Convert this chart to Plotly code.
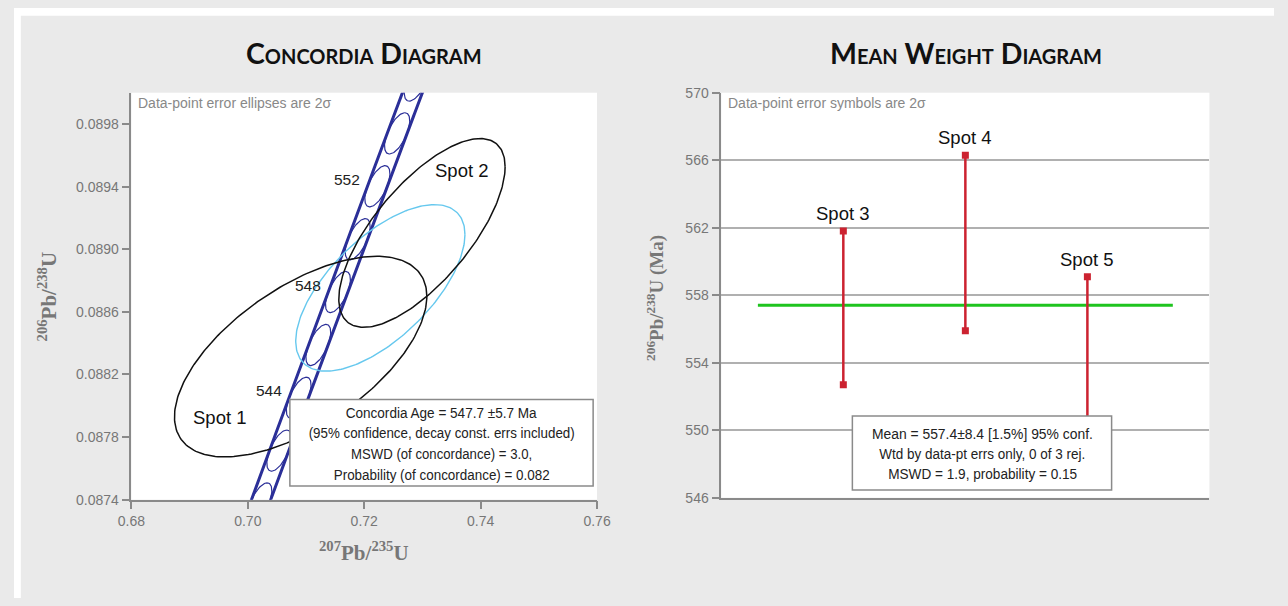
import json
import numpy as np
import plotly.graph_objects as go

W, H = 1288, 606

# ---------------- Concordia diagram inputs ----------------
LAMBDA_238 = 1.55125e-10      # 1/yr
LAMBDA_235 = 9.8485e-10       # 1/yr
BAND_REL_ERR = 0.00182        # relative λ235 spread shown as the concordia band
marker_ages = [540, 542, 544, 546, 548, 550, 552, 554, 556]   # Ma
label_ages = [544, 548, 552]                                  # Ma
marker_half_age = 0.78                                        # Ma

spot_names = ["Spot 1", "Spot 2"]
spot_x = [0.70908, 0.72992]          # 207Pb/235U
spot_y = [0.088314, 0.089104]        # 206Pb/238U
spot_x_err = [0.02168, 0.014286]     # 2σ
spot_y_err = [0.000641, 0.000603]    # 2σ
spot_rho = [0.60, 0.70]

wm_x, wm_y = 0.72277, 0.088753
wm_x_err, wm_y_err, wm_rho = 0.014538, 0.000532, 0.64

# ---------------- Weighted mean inputs ----------------
wm_spots = ["Spot 3", "Spot 4", "Spot 5"]
wm_pos = [1, 2, 3]
age_hi = [561.8, 566.3, 559.1]
age_lo = [552.7, 555.9, 549.4]
mean_age = 557.4
mean_span = [0.3, 3.7]

conc_lines = ["Concordia Age = 547.7 ±5.7 Ma",
              "(95% confidence, decay const. errs included)",
              "MSWD (of concordance) = 3.0,",
              "Probability (of concordance) = 0.082"]
conc_widths = [191, 266, 181, 216]
mean_lines = ["Mean = 557.4±8.4 [1.5%] 95% conf.",
              "Wtd by data-pt errs only, 0 of 3 rej.",
              "MSWD = 1.9, probability = 0.15"]
mean_widths = [221, 206, 189]

GRAY_TXT = "#777777"
AXIS_C = "#8a8a8a"
NAVY = "#2b2f98"
RED = "#cc2230"
SANS = "Liberation Sans, Arial, sans-serif"
SERIF = "Liberation Serif, Times New Roman, serif"
TITLE_FONT = "Lato, Open Sans, sans-serif"


def px_x(v):
    return v / W


def px_y(v):
    return 1 - v / H


def concordia(t_ma, lam235=LAMBDA_235):
    t = np.asarray(t_ma, dtype=float) * 1e6
    return np.exp(lam235 * t) - 1.0, np.exp(LAMBDA_238 * t) - 1.0


def error_ellipse(cx, cy, ex, ey, rho, n=240):
    th = np.linspace(0, 2 * np.pi, n)
    x = cx + ex * np.cos(th)
    y = cy + ey * (rho * np.cos(th) + np.sqrt(1 - rho ** 2) * np.sin(th))
    return x, y


fig = go.Figure()

# concordia band edges
t_line = np.linspace(530, 565, 200)
for sgn in (-1, 1):
    bx, by = concordia(t_line, LAMBDA_235 * (1 + sgn * BAND_REL_ERR))
    fig.add_trace(go.Scatter(x=bx, y=by, mode="lines",
                             line=dict(color=NAVY, width=3),
                             hoverinfo="skip", showlegend=False,
                             xaxis="x", yaxis="y"))

# age marker ellipses inscribed in the band
for age in marker_ages:
    cx, cy = concordia(age)
    x0, y0 = concordia(age - marker_half_age)
    x1, y1 = concordia(age + marker_half_age)
    ux, uy = (x1 - x0) / 2, (y1 - y0) / 2
    hw = (cx + 1) * LAMBDA_235 * age * 1e6 * BAND_REL_ERR
    th = np.linspace(0, 2 * np.pi, 120)
    ex = cx + ux * np.cos(th) + hw * np.sin(th)
    ey = cy + uy * np.cos(th)
    fig.add_trace(go.Scatter(x=ex, y=ey, mode="lines",
                             line=dict(color=NAVY, width=1.2),
                             hoverinfo="skip", showlegend=False,
                             xaxis="x", yaxis="y"))

# weighted-mean ellipse
mx, my = error_ellipse(wm_x, wm_y, wm_x_err, wm_y_err, wm_rho)
fig.add_trace(go.Scatter(x=mx, y=my, mode="lines",
                         line=dict(color="#66c8ee", width=1.4),
                         hoverinfo="skip", showlegend=False,
                         xaxis="x", yaxis="y"))

# spot error ellipses
for i in range(len(spot_names)):
    sx, sy = error_ellipse(spot_x[i], spot_y[i], spot_x_err[i],
                           spot_y_err[i], spot_rho[i])
    fig.add_trace(go.Scatter(x=sx, y=sy, mode="lines",
                             line=dict(color="#111111", width=1.5),
                             hoverinfo="skip", showlegend=False,
                             xaxis="x", yaxis="y"))

# ---------------- weighted mean panel ----------------
fig.add_trace(go.Scatter(x=mean_span, y=[mean_age, mean_age], mode="lines",
                         line=dict(color="#1fc41f", width=3),
                         hoverinfo="skip", showlegend=False,
                         xaxis="x2", yaxis="y2"))

bar_x, bar_y = [], []
for p, lo, hi in zip(wm_pos, age_lo, age_hi):
    bar_x += [p, p, None]
    bar_y += [lo, hi, None]
fig.add_trace(go.Scatter(x=bar_x, y=bar_y, mode="lines",
                         line=dict(color=RED, width=2.5),
                         hoverinfo="skip", showlegend=False,
                         xaxis="x2", yaxis="y2"))
fig.add_trace(go.Scatter(x=wm_pos + wm_pos, y=age_hi + age_lo, mode="markers",
                         marker=dict(symbol="square", size=7, color=RED),
                         hoverinfo="skip", showlegend=False,
                         xaxis="x2", yaxis="y2"))

annotations = []


def paper_text(text, x, y, font, xanchor="center", textangle=0):
    annotations.append(dict(text=text, x=px_x(x), y=px_y(y), xref="paper",
                            yref="paper", xanchor=xanchor, yanchor="middle",
                            showarrow=False, textangle=textangle, font=font))


# titles (small caps)
for txt, cx in (("Concordia Diagram", 358), ("Mean Weight Diagram", 973)):
    paper_text(f"<span style='font-variant:small-caps'>{txt}</span>", cx, 46,
               dict(family=TITLE_FONT, color="#111111", size=28.5, weight="bold"))

# axis titles
paper_text("<sup>206</sup>Pb/<sup>238</sup>U", 34, 296,
           dict(family=SERIF, size=21, color=GRAY_TXT, weight="bold"), textangle=-90)
paper_text("<sup>207</sup>Pb/<sup>235</sup>U", 358, 558,
           dict(family=SERIF, size=21, color=GRAY_TXT, weight="bold"))
paper_text("<sup>206</sup>Pb/<sup>238</sup>U (Ma)", 655, 298,
           dict(family=SERIF, size=19, color=GRAY_TXT, weight="bold"), textangle=-90)

# in-plot notes
paper_text("Data-point error ellipses are 2σ", 125, 98,
           dict(family=SANS, size=14, color="#888888"), xanchor="left")
paper_text("Data-point error symbols are 2σ", 728, 98,
           dict(family=SANS, size=14, color="#888888"), xanchor="left")

# age labels on concordia
for age in label_ages:
    cx, cy = concordia(age)
    annotations.append(dict(text=str(age), x=float(cx), y=float(cy), xref="x", yref="y",
                            xanchor="right", yanchor="middle", xshift=-15, yshift=7,
                            showarrow=False,
                            font=dict(family=SANS, size=15.5, color="#222222")))

# spot labels
annotations.append(dict(text="Spot 1", x=0.69529, y=0.087922, xref="x", yref="y",
                        xanchor="center", yanchor="middle", showarrow=False,
                        font=dict(family=SANS, size=18.5, color="#111111")))
annotations.append(dict(text="Spot 2", x=0.73681, y=0.089502, xref="x", yref="y",
                        xanchor="center", yanchor="middle", showarrow=False,
                        font=dict(family=SANS, size=18.5, color="#111111")))
for name, p, hi in zip(wm_spots, wm_pos, age_hi):
    annotations.append(dict(text=name, x=p, y=hi, xref="x2", yref="y2",
                            xanchor="center", yanchor="bottom", yshift=5,
                            showarrow=False,
                            font=dict(family=SANS, size=18.5, color="#111111")))

# result box texts
for i, line in enumerate(conc_lines):
    paper_text(line, 437, 415 + 21.3 * i, dict(family=SANS, size=15.5, color="#222222"))
for i, line in enumerate(mean_lines):
    paper_text(line, 990, 437 + 20.7 * i, dict(family=SANS, size=15.5, color="#222222"))

shapes = [
    # white page border along the top and left edges
    dict(type="rect", xref="paper", yref="paper", x0=0, x1=1, y0=px_y(8), y1=1,
         fillcolor="white", line=dict(width=0), layer="above"),
    dict(type="rect", xref="paper", yref="paper", x0=0, x1=px_x(7), y0=0, y1=1,
         fillcolor="white", line=dict(width=0), layer="above"),
    # result boxes
    dict(type="rect", xref="paper", yref="paper", x0=px_x(282), x1=px_x(592),
         y0=px_y(491), y1=px_y(402), fillcolor="white",
         line=dict(color="#8a8a8a", width=1.5), layer="above"),
    dict(type="rect", xref="paper", yref="paper", x0=px_x(857), x1=px_x(1122),
         y0=px_y(495), y1=px_y(419), fillcolor="white",
         line=dict(color="#8a8a8a", width=1.5), layer="above"),
]

axis_common = dict(showline=True, linecolor=AXIS_C, linewidth=1.5,
                   ticks="outside", ticklen=8, tickwidth=1.5, tickcolor=AXIS_C,
                   zeroline=False, tickfont=dict(family=SANS, size=14, color=GRAY_TXT))

fig.update_layout(
    width=W, height=H,
    margin=dict(l=0, r=0, t=0, b=0),
    paper_bgcolor="#eaeaea",
    plot_bgcolor="white",
    showlegend=False,
    xaxis=dict(domain=[px_x(120), px_x(596)], range=[0.68, 0.76],
               tickvals=[0.68, 0.70, 0.72, 0.74, 0.76], tickformat=".2f",
               showgrid=False, anchor="y", **axis_common),
    yaxis=dict(domain=[px_y(505), px_y(87)], range=[0.0874, 0.0900],
               tick0=0.0874, dtick=0.0004, tickformat=".4f",
               showgrid=False, anchor="x", **axis_common),
    xaxis2=dict(domain=[px_x(723), px_x(1222)], range=[0, 4],
                showticklabels=False, showgrid=False, showline=True,
                linecolor=AXIS_C, linewidth=1.5, ticks="", zeroline=False,
                anchor="y2"),
    yaxis2=dict(domain=[px_y(503), px_y(87)], range=[546, 570], tick0=546, dtick=4,
                showgrid=True, gridcolor="#b0b0b0", gridwidth=1.5,
                anchor="x2", **axis_common),
    annotations=annotations,
    shapes=shapes,
)

# page set-up, and condensed widths for the result-box lines
fit = dict(zip(conc_lines + mean_lines, conc_widths + mean_widths))
post = ("[document.documentElement, document.body].forEach(function(e){"
        "e.style.margin='0'; e.style.padding='0'; e.style.overflow='hidden';});"
        "var fit = " + json.dumps(fit) + ";"
        "document.querySelectorAll('text.annotation-text').forEach(function(t){"
        "var w = fit[t.textContent]; if (w) {"
        "t.setAttribute('textLength', w);"
        "t.setAttribute('lengthAdjust', 'spacingAndGlyphs');}});")

fig.write_html("out.html", post_script=post)
